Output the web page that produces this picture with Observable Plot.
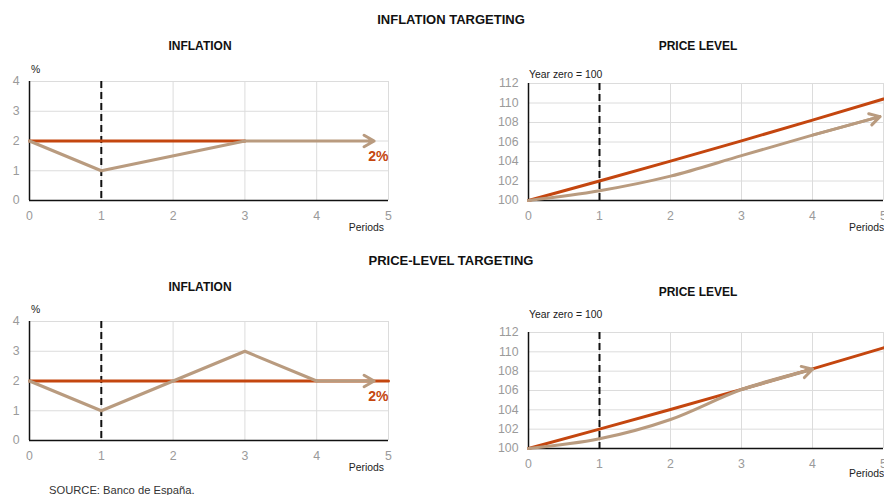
<!DOCTYPE html>
<html>
<head>
<meta charset="utf-8">
<script src="https://cdn.jsdelivr.net/npm/d3@7"></script>
<script src="https://cdn.jsdelivr.net/npm/@observablehq/plot@0.6"></script>
<style>
  html, body { margin: 0; padding: 0; background: #fff; overflow: hidden; }
  #chart { position: relative; width: 884px; height: 495px; overflow: hidden; }
  #chart svg { position: absolute; }
</style>
</head>
<body>
<div id="chart"></div>
<script>
// Periods on the horizontal axis and axis ticks
const periods = [0, 1, 2, 3, 4, 5];
const inflationTicks = [0, 1, 2, 3, 4];
const priceTicks = [100, 102, 104, 106, 108, 110, 112];

// Shock hits in period 1; the central bank targets 2% inflation
const shockPeriod = 1;
const inflationTarget = 2;

// Inflation targeting: inflation path and resulting price level
const itTargetPeriods = [0, 3];
const itInflationPeriods = [0, 1, 3, 4.8];
const itInflation = [2, 1, 2, 2];
const itPricePeriods = [0, 1, 2, 3, 4, 4.95];
const itPrice = [100, 101, 102.5, 104.6, 106.7, 108.6];

// Price-level targeting: inflation path and resulting price level
const pltTargetPeriods = [0, 5];
const pltInflationPeriods = [0, 1, 2, 3, 4, 4.8];
const pltInflation = [2, 1, 2, 3, 2, 2];
const pltPricePeriods = [0, 1, 2, 3, 4];
const pltPrice = [100, 101, 103, 106.1, 108.2];

// Price level growing at the 2% target (year zero = 100)
const targetPath = [100, 102, 104.04, 106.12, 108.24, 110.41];

const red = "#c4460f";
const tan = "#b99b7f";
const font = "'Liberation Sans', Arial, sans-serif";
const chart = document.getElementById("chart");

function label(text, x, y, {size = 10.4, weight = "normal", color = "#222", anchor = "start"} = {}) {
  const d = document.createElement("div");
  d.textContent = text;
  const tx = anchor === "middle" ? "-50%" : anchor === "end" ? "-100%" : "0";
  d.style.cssText = `position:absolute;left:${x}px;top:${y}px;font-family:${font};font-size:${size}px;font-weight:${weight};color:${color};line-height:1;white-space:nowrap;transform:translate(${tx},-50%)`;
  chart.appendChild(d);
}

function pairs(xs, ys) {
  return xs.map((t, i) => ({t, v: ys[i]}));
}

function lastSegment(rows) {
  const a = rows[rows.length - 2], b = rows[rows.length - 1];
  return [{x1: a.t, y1: a.v, x2: b.t, y2: b.v}];
}

// Arrowhead drawn as an open chevron at the end of each adjusted path
const arrowStyle = {x1: "x1", y1: "y1", x2: "x2", y2: "y2", stroke: tan, strokeWidth: 3, headLength: 5.8, headAngle: 60};

function panel({left, top, width, height, margins, yDomain, yTicks, marks}) {
  const svg = Plot.plot({
    width, height,
    marginLeft: margins[0], marginRight: margins[1], marginTop: margins[2], marginBottom: margins[3],
    style: {fontFamily: font, fontSize: "12.3px", color: "#9a9a9a", background: "transparent", overflow: "visible"},
    x: {domain: [0, 5], ticks: periods, tickFormat: d => String(d), tickSize: 0, tickPadding: 11, label: null},
    y: {domain: yDomain, ticks: yTicks, tickFormat: d => String(d), tickSize: 0, tickPadding: 10, label: null},
    marks: [
      Plot.ruleX(periods, {stroke: "#dcdcdc", strokeWidth: 1}),
      Plot.ruleY(yTicks, {stroke: "#dcdcdc", strokeWidth: 1}),
      Plot.ruleX([0], {stroke: "#111", strokeWidth: 1.5}),
      Plot.ruleY([yDomain[0]], {stroke: "#111", strokeWidth: 1.5}),
      Plot.ruleX([shockPeriod], {stroke: "#111", strokeWidth: 2, strokeDasharray: "7,4"}),
      ...marks
    ]
  });
  svg.style.left = left + "px";
  svg.style.top = top + "px";
  chart.appendChild(svg);
}

function inflationMarks(targetPeriods, pathPeriods, path) {
  const target = targetPeriods.map(t => ({t, v: inflationTarget}));
  const actual = pairs(pathPeriods, path);
  return [
    Plot.line(target, {x: "t", y: "v", stroke: red, strokeWidth: 3}),
    Plot.line(actual.slice(0, -1), {x: "t", y: "v", stroke: tan, strokeWidth: 3}),
    Plot.arrow(lastSegment(actual), arrowStyle),
    Plot.text([inflationTarget], {frameAnchor: "right", y: d => d, text: d => `${d}%`, dy: 16, textAnchor: "end", fill: red, fontWeight: "bold", fontSize: 14})
  ];
}

function priceMarks(pathPeriods, path) {
  const target = pairs(periods, targetPath);
  const actual = pairs(pathPeriods, path);
  return [
    Plot.line(target, {x: "t", y: "v", stroke: red, strokeWidth: 3}),
    Plot.line(actual, {x: "t", y: "v", stroke: tan, strokeWidth: 3, curve: "monotone-x"}),
    Plot.arrow(lastSegment(actual), arrowStyle)
  ];
}

// Inflation targeting
panel({left: 0, top: 60, width: 400, height: 180, margins: [29, 12, 21, 40],
  yDomain: [0, 4], yTicks: inflationTicks,
  marks: inflationMarks(itTargetPeriods, itInflationPeriods, itInflation)});
panel({left: 480, top: 60, width: 460, height: 180, margins: [48, 57, 23, 40],
  yDomain: [100, 112], yTicks: priceTicks,
  marks: priceMarks(itPricePeriods, itPrice)});

// Price-level targeting
panel({left: 0, top: 300, width: 400, height: 180, margins: [29, 12, 21, 40],
  yDomain: [0, 4], yTicks: inflationTicks,
  marks: inflationMarks(pltTargetPeriods, pltInflationPeriods, pltInflation)});
panel({left: 480, top: 300, width: 460, height: 195, margins: [48, 57, 32, 47],
  yDomain: [100, 112], yTicks: priceTicks,
  marks: priceMarks(pltPricePeriods, pltPrice)});

// Titles and axis notes
label("INFLATION TARGETING", 451, 19, {size: 13, weight: "bold", color: "#111", anchor: "middle"});
label("INFLATION", 200, 46, {size: 12, weight: "bold", color: "#111", anchor: "middle"});
label("PRICE LEVEL", 698, 46, {size: 12, weight: "bold", color: "#111", anchor: "middle"});
label("PRICE-LEVEL TARGETING", 451, 260, {size: 13, weight: "bold", color: "#111", anchor: "middle"});
label("INFLATION", 200, 287, {size: 12, weight: "bold", color: "#111", anchor: "middle"});
label("PRICE LEVEL", 698, 292, {size: 12, weight: "bold", color: "#111", anchor: "middle"});

label("%", 31, 70);
label("%", 31, 310);
label("Year zero = 100", 529, 75);
label("Year zero = 100", 529, 315);
label("Periods", 384, 228, {anchor: "end"});
label("Periods", 384, 468, {anchor: "end"});
label("Periods", 849, 228);
label("Periods", 849, 474);

label("SOURCE: Banco de España.", 49, 491, {size: 11.2, color: "#333"});
</script>
</body>
</html>
